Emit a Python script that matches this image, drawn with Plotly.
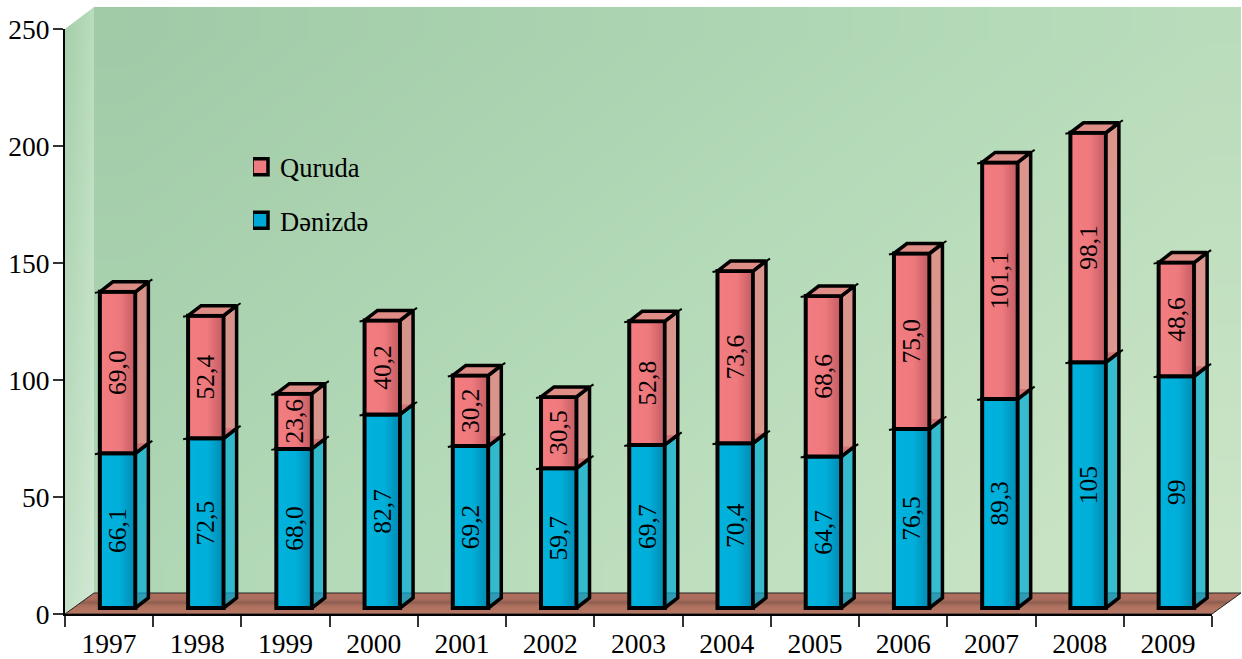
import plotly.graph_objects as go

years = ["1997","1998","1999","2000","2001","2002","2003","2004","2005","2006","2007","2008","2009"]
denizde = [66.1,72.5,68.0,82.7,69.2,59.7,69.7,70.4,64.7,76.5,89.3,105,99]
quruda = [69.0,52.4,23.6,40.2,30.2,30.5,52.8,73.6,68.6,75.0,101.1,98.1,48.6]
denizde_labels = ["66,1","72,5","68,0","82,7","69,2","59,7","69,7","70,4","64,7","76,5","89,3","105","99"]
quruda_labels = ["69,0","52,4","23,6","40,2","30,2","30,5","52,8","73,6","68,6","75,0","101,1","98,1","48,6"]
y_ticks = [0, 50, 100, 150, 200, 250]

W, H = 1242, 659
PL, PR, PT, PB = 65, 1212, 29, 614          # pixel box of the visible axes
XU = (PR - PL) / 13                          # px per category
YU = (PB - PT) / 250                         # px per value unit
SERIF = "Liberation Serif"

def px(v): return v / XU
def py(v): return v / YU

WALL_DX, WALL_DY = px(29), py(21)
FRONT_DX, FRONT_DY = px(8.5), py(6)
DEPTH_DX, DEPTH_DY = px(13), py(10)
BAR_W = px(35.5)

x_full = [-0.5 - px(PL), -0.5 + px(W - PL)]
y_full = [-py(H - PB), py(PB)]

fig = go.Figure()

# ---------- back wall ---------
nx, ny = 16, 10
x0, x1 = -0.5 + WALL_DX, 12.5 + WALL_DX
y0, y1 = WALL_DY, 250 + WALL_DY + py(1)
xe = [x0 + (x1 - x0) * i / nx for i in range(nx + 1)]
ye = [y0 + (y1 - y0) * j / ny for j in range(ny + 1)]
z = [[(i + 0.5) / nx * 0.6 + (ny - j - 0.5) / ny * 0.4 for i in range(nx)] for j in range(ny)]
fig.add_trace(go.Heatmap(x=xe, y=ye, z=z, zmin=0, zmax=1, zsmooth="best", showscale=False, hoverinfo="skip",
                         colorscale=[[0, "#9FC9A6"], [0.5, "#B4DAB8"], [1, "#CEE6C8"]]))

# ---------- side wall ---------
sw_x = [-0.5, -0.5 + WALL_DX, -0.5 + WALL_DX, -0.5, -0.5]
sw_y = [0, WALL_DY, 250 + WALL_DY + py(1), 250, 0]
fig.add_trace(go.Scatter(x=sw_x, y=sw_y, mode="lines", fill="toself", line=dict(width=0), hoverinfo="skip",
                         showlegend=False,
                         fillgradient=dict(type="horizontal",
                                           colorscale=[[0, "#A4CEAA"], [0.7, "#B2D8B6"], [1, "#BADCBE"]])))
fig.add_trace(go.Scatter(x=sw_x, y=sw_y, mode="lines", fill="toself", line=dict(width=0), hoverinfo="skip",
                         showlegend=False,
                         fillgradient=dict(type="vertical",
                                           colorscale=[[0, "rgba(255,255,255,0.35)"], [1, "rgba(255,255,255,0)"]])))

# ---------- floor ---------
fl_x = [-0.5, 12.5, 12.5 + WALL_DX, -0.5 + WALL_DX, -0.5]
fl_y = [0, 0, WALL_DY, WALL_DY, 0]
fig.add_trace(go.Scatter(x=fl_x, y=fl_y, mode="lines", fill="toself", line=dict(width=1, color="#222222"),
                         hoverinfo="skip", showlegend=False,
                         fillgradient=dict(type="vertical",
                                           colorscale=[[0, "#B87765"], [0.38, "#AE705E"], [0.55, "#8E5E50"],
                                                       [0.7, "#AA6D5C"], [1, "#B06F5E"]])))

tops_d = denizde
tops_q = [d + q for d, q in zip(denizde, quruda)]

# top of the lower block: lies under the upper block, seen only through its side face
ix, iy = [], []
for i, hi in enumerate(tops_d):
    xl = i + FRONT_DX - BAR_W / 2
    xr = i + FRONT_DX + BAR_W / 2
    hy = hi + FRONT_DY
    ix += [xl, xr, xr + DEPTH_DX, xl + DEPTH_DX, xl, None]
    iy += [hy, hy, hy + DEPTH_DY, hy + DEPTH_DY, hy, None]
fig.add_trace(go.Scatter(x=ix, y=iy, mode="lines", fill="toself", fillcolor="rgba(150,70,90,0.75)",
                         line=dict(width=0), hoverinfo="skip", showlegend=False))

# ---------- bars, on the visible axes ---------
bar_offset = FRONT_DX - BAR_W / 2
FRONT_LINE = 4
fig.add_trace(go.Bar(x=years, y=denizde, base=[FRONT_DY] * 13, name="Dənizdə", xaxis="x2", yaxis="y2",
                     width=BAR_W, offset=bar_offset, marker=dict(color="#00B2DD", line=dict(color="black", width=FRONT_LINE)),
                     text=denizde_labels, textposition="inside", textangle=-90, insidetextanchor="middle",
                     constraintext="none", textfont=dict(family=SERIF, size=25.5, color="black"),
                     cliponaxis=False, showlegend=False, hoverinfo="skip"))
q_base = [d + FRONT_DY for d in denizde]
fig.add_trace(go.Bar(x=years, y=quruda, base=q_base, name="Quruda", xaxis="x2", yaxis="y2",
                     width=BAR_W, offset=bar_offset, marker=dict(color="#F27C80", line=dict(color="black", width=FRONT_LINE)),
                     text=quruda_labels, textposition="inside", textangle=-90, insidetextanchor="middle",
                     constraintext="none", textfont=dict(family=SERIF, size=25.5, color="black"),
                     cliponaxis=False, showlegend=False, hoverinfo="skip"))

# ---------- extruded faces, on the overlay axes ---------
def poly_trace(xs, ys, fill, line_w=3.5):
    return go.Scatter(x=xs, y=ys, mode="lines", fill="toself", fillcolor=fill, xaxis="x3", yaxis="y3",
                      line=dict(color="black", width=line_w), hoverinfo="skip", showlegend=False, cliponaxis=False)

def faces(lows, highs, side_fill, top_fill):
    sx, sy, tx, ty = [], [], [], []
    for i, (lo, hi) in enumerate(zip(lows, highs)):
        xl = i + FRONT_DX - BAR_W / 2
        xr = i + FRONT_DX + BAR_W / 2
        lo_y, hi_y = lo + FRONT_DY, hi + FRONT_DY
        sx += [xr, xr + DEPTH_DX, xr + DEPTH_DX, xr, xr, None]
        sy += [lo_y, lo_y + DEPTH_DY, hi_y + DEPTH_DY, hi_y, lo_y, None]
        tx += [xl, xr, xr + DEPTH_DX, xl + DEPTH_DX, xl, None]
        ty += [hi_y, hi_y, hi_y + DEPTH_DY, hi_y + DEPTH_DY, hi_y, None]
    fig.add_trace(poly_trace(sx, sy, side_fill))
    if top_fill:
        fig.add_trace(poly_trace(tx, ty, top_fill))

faces([0] * 13, tops_d, "rgba(0,172,212,0.72)", None)
faces(tops_d, tops_q, "rgba(232,122,122,0.72)", "rgba(232,122,122,0.8)")

# small overshoot of the edges at the top corners
sp_x, sp_y = [], []
for i, hi in enumerate(list(tops_d) + list(tops_q)):
    j = i % 13
    xl = j + FRONT_DX - BAR_W / 2
    xr = j + FRONT_DX + BAR_W / 2
    hy = hi + FRONT_DY
    sp_x += [xl - px(5), xl, None, xr + DEPTH_DX, xr + DEPTH_DX + px(4), None]
    sp_y += [hy - py(1), hy, None, hy + DEPTH_DY, hy + DEPTH_DY + py(2.5), None]
fig.add_trace(go.Scatter(x=sp_x, y=sp_y, mode="lines", line=dict(color="black", width=2), xaxis="x3", yaxis="y3",
                         hoverinfo="skip", showlegend=False, cliponaxis=False))

# horizontal shading across the front faces
for lows, highs, tint in ((
        [0] * 13, tops_d, "0,50,80"), (tops_d, tops_q, "90,20,30")):
    for i, (lo, hi) in enumerate(zip(lows, highs)):
        xl = i + FRONT_DX - BAR_W / 2 + px(2)
        xr = i + FRONT_DX + BAR_W / 2 - px(2)
        a, b = lo + FRONT_DY + py(2), hi + FRONT_DY - py(2)
        fig.add_trace(go.Scatter(x=[xl, xr, xr, xl, xl], y=[a, a, b, b, a], mode="lines", fill="toself",
                                 line=dict(width=0), xaxis="x3", yaxis="y3", hoverinfo="skip", showlegend=False,
                                 fillgradient=dict(type="horizontal",
                                                   colorscale=[[0, f"rgba({tint},0)"], [0.55, f"rgba({tint},0.02)"],
                                                               [1, f"rgba({tint},0.28)"]])))

# ---------- legend ---------
fig.add_trace(go.Scatter(x=[None], y=[None], mode="markers", name="Quruda", legendgroup="q", xaxis="x3", yaxis="y3",
                         marker=dict(symbol="square", size=16, color="#EE7B80", line=dict(color="black", width=3.5))))
fig.add_trace(go.Scatter(x=[None], y=[None], mode="markers", name="Dənizdə", legendgroup="d", xaxis="x3", yaxis="y3",
                         marker=dict(symbol="square", size=16, color="#00A8D8", line=dict(color="black", width=3.5))))

hidden = dict(visible=False, fixedrange=True)
fig.update_layout(
    width=W, height=H, margin=dict(l=0, r=0, t=0, b=0, autoexpand=False), paper_bgcolor="white", plot_bgcolor="rgba(0,0,0,0)",
    barmode="overlay", font=dict(family=SERIF, size=26, color="black"),
    xaxis=dict(range=x_full, domain=[0, 1], anchor="y", **hidden),
    yaxis=dict(range=y_full, domain=[0, 1], anchor="x", **hidden),
    xaxis2=dict(type="category", categoryorder="array", categoryarray=years, range=[-0.5, 12.5],
                domain=[PL / W, PR / W], anchor="y2", tickson="boundaries", ticks="outside", ticklen=11, tickwidth=1.5,
                tickcolor="#333333", showgrid=False, showline=True, linecolor="black", linewidth=1.5, zeroline=False,
                tickfont=dict(family=SERIF, size=27.5, color="black"), ticklabelstandoff=4, fixedrange=True),
    yaxis2=dict(range=[0, 250], domain=[(H - PB) / H, (H - PT) / H], anchor="x2", tickmode="array", tickvals=y_ticks,
                ticks="outside", ticklen=10, tickwidth=1.5, tickcolor="#333333", showgrid=False, showline=True,
                linecolor="black", linewidth=2, zeroline=False, tickfont=dict(family=SERIF, size=27.5, color="black"),
                ticklabelstandoff=-2, fixedrange=True),
    xaxis3=dict(range=x_full, domain=[0, 1], anchor="y3", **hidden),
    yaxis3=dict(range=y_full, domain=[0, 1], anchor="x3", **hidden),
    legend=dict(x=253 / W, xanchor="left", y=1 - 143 / H, yanchor="top", bgcolor="rgba(0,0,0,0)", borderwidth=0,
                font=dict(family=SERIF, size=26.5, color="black"), tracegroupgap=16, indentation=-13,
                itemsizing="trace", traceorder="grouped"),
)

fig.write_html("out.html", config={"displayModeBar": False},
               post_script="document.body.style.margin='0';document.body.style.overflow='hidden';")
